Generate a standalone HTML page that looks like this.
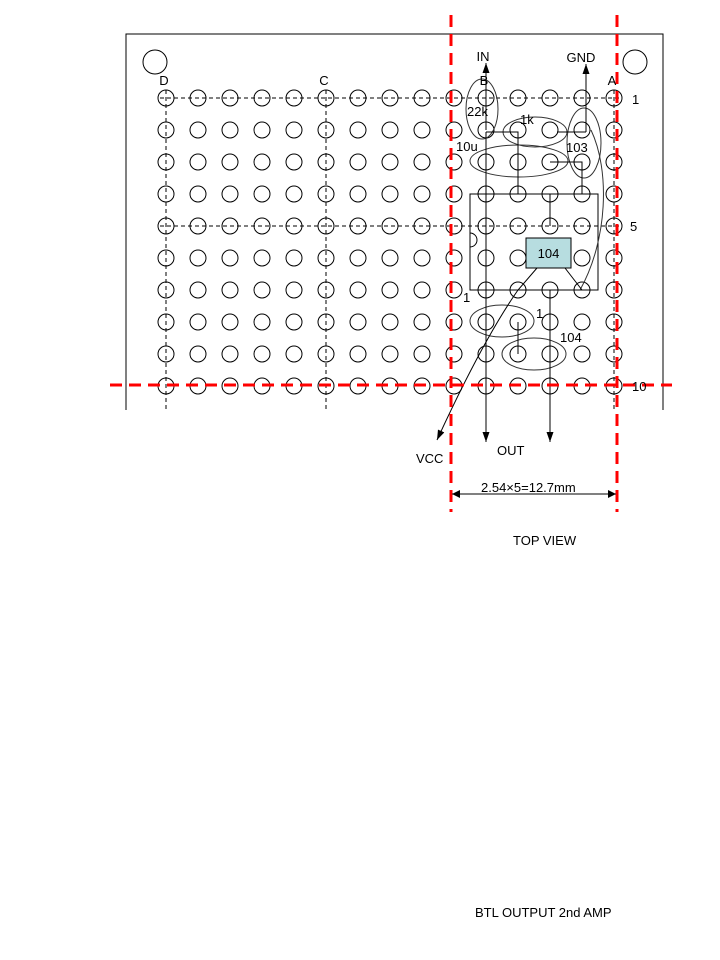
<!DOCTYPE html>
<html><head><meta charset="utf-8"><style>
html,body{margin:0;padding:0;background:#fff;}
svg{display:block;}
text{font-family:"Liberation Sans","Noto Sans CJK JP",sans-serif;font-size:13px;fill:#000;}
</style></head><body>
<svg width="720" height="960" viewBox="0 0 720 960" xmlns="http://www.w3.org/2000/svg">
<defs>
<marker id="ar" markerWidth="10" markerHeight="10" refX="10" refY="5" orient="auto" markerUnits="userSpaceOnUse">
<path d="M0,1.5 L10,5 L0,8.5 z" fill="#000"/></marker>
<marker id="ar2" markerWidth="8" markerHeight="8" refX="8" refY="4" orient="auto-start-reverse" markerUnits="userSpaceOnUse">
<path d="M0,0 L8,4 L0,8 z" fill="#000"/></marker>
</defs>
<polyline points="126,410 126,34 663,34 663,410" fill="none" stroke="#000" stroke-width="1"/>
<circle cx="155" cy="62" r="12" fill="none" stroke="#000"/>
<circle cx="635" cy="62" r="12" fill="none" stroke="#000"/>
<g stroke="#000" stroke-width="1" stroke-dasharray="4,3" fill="none">
<line x1="160" y1="98" x2="620" y2="98"/>
<line x1="160" y1="226" x2="620" y2="226"/>
<line x1="166" y1="90" x2="166" y2="410"/>
<line x1="326" y1="90" x2="326" y2="410"/>
<line x1="486" y1="90" x2="486" y2="410"/>
<line x1="614" y1="90" x2="614" y2="410"/>
</g>
<g id="holes" fill="none" stroke="#000" stroke-width="1"></g>
<rect x="470" y="194" width="128" height="96" fill="none" stroke="#000"/>
<path d="M470,233 A7,7 0 0 1 470,247" fill="none" stroke="#000"/>
<rect x="526" y="238" width="45" height="30" fill="#b7dde0" stroke="#000"/>
<text x="548.5" y="258" text-anchor="middle">104</text>
<g fill="none" stroke="#333" stroke-width="1">
<ellipse cx="482" cy="109" rx="16" ry="30"/>
<ellipse cx="535" cy="132" rx="32" ry="15"/>
<ellipse cx="519" cy="161" rx="49" ry="16"/>
<ellipse cx="584" cy="143" rx="17" ry="35"/>
<path d="M591,130 C610,170 608,240 580,290"/>
<ellipse cx="502" cy="321" rx="32" ry="16"/>
<ellipse cx="534" cy="354" rx="32" ry="16"/>
</g>
<g stroke="#000" stroke-width="1" fill="none">
<line x1="486" y1="130" x2="486" y2="63" marker-end="url(#ar)"/>
<line x1="586" y1="132" x2="586" y2="64" marker-end="url(#ar)"/>
<polyline points="486,132 518,132 518,194"/>
<line x1="557" y1="132" x2="586" y2="132"/>
<polyline points="550,162 582,162 582,194"/>
<line x1="550" y1="194" x2="550" y2="226"/>
<line x1="486" y1="132" x2="486" y2="442" marker-end="url(#ar)"/>
<line x1="550" y1="290" x2="550" y2="442" marker-end="url(#ar)"/>
<line x1="518" y1="322" x2="518" y2="354"/>
<line x1="565" y1="268" x2="582" y2="290"/>
<path d="M537,268 L518,290 C490,330 460,390 437,440" marker-end="url(#ar)"/>
</g>
<g stroke="#ff0000" stroke-width="3" stroke-dasharray="12,7" fill="none">
<line x1="451" y1="15" x2="451" y2="512"/>
<line x1="617" y1="15" x2="617" y2="512"/>
<line x1="110" y1="385" x2="672" y2="385"/>
</g>
<line x1="452" y1="494" x2="616" y2="494" stroke="#000" marker-start="url(#ar2)" marker-end="url(#ar2)"/>
<text x="483" y="61" text-anchor="middle">IN</text>
<text x="581" y="62" text-anchor="middle">GND</text>
<text x="164" y="85" text-anchor="middle">D</text>
<text x="324" y="85" text-anchor="middle">C</text>
<text x="484" y="85" text-anchor="middle">B</text>
<text x="612" y="85" text-anchor="middle">A</text>
<text x="632" y="104">1</text>
<text x="630" y="231">5</text>
<text x="632" y="391">10</text>
<text x="467" y="116">22k</text>
<text x="520" y="124">1k</text>
<text x="456" y="151">10u</text>
<text x="566" y="152">103</text>
<text x="463" y="302">1</text>
<text x="536" y="318">1</text>
<text x="560" y="342">104</text>
<text x="416" y="463">VCC</text>
<text x="497" y="455">OUT</text>
<text x="481" y="492">2.54×5=12.7mm</text>
<text x="513" y="545">TOP VIEW</text>
<text x="475" y="917">BTL OUTPUT 2nd AMP</text>
</svg>
<script>
(function(){var g=document.getElementById('holes');var ns='http://www.w3.org/2000/svg';
for(var r=0;r<10;r++)for(var c=0;c<15;c++){var e=document.createElementNS(ns,'circle');
e.setAttribute('cx',166+32*c);e.setAttribute('cy',98+32*r);e.setAttribute('r',8);g.appendChild(e);}})();
</script>
</body></html>
